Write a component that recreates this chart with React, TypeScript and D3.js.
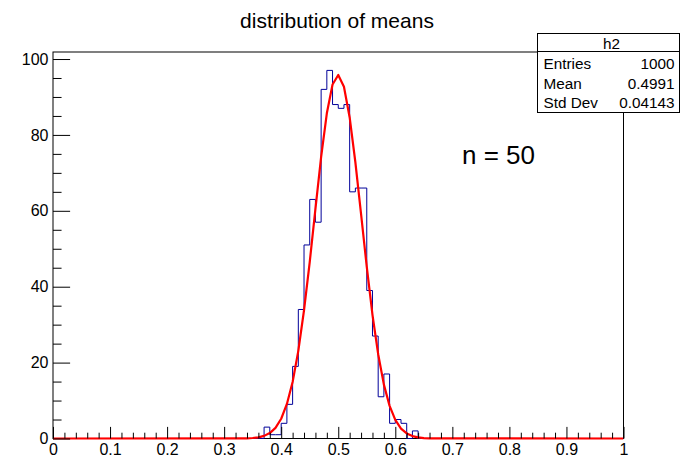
import React, { useEffect, useRef } from 'react';
import * as d3 from 'd3';

// histogram h2: 100 bins on [0, 1], counts
const histLow = 0;
const histHigh = 1;
const binCounts = [
  0, 0, 0, 0, 0, 0, 0, 0, 0, 0,
  0, 0, 0, 0, 0, 0, 0, 0, 0, 0,
  0, 0, 0, 0, 0, 0, 0, 0, 0, 0,
  0, 0, 0, 0, 0, 0, 0, 3, 1, 1,
  4, 9, 19, 34, 51, 63, 57, 92, 97, 88,
  87, 88, 65, 66, 66, 39, 27, 11, 17, 4,
  5, 4, 0, 2, 0, 0, 0, 0, 0, 0,
  0, 0, 0, 0, 0, 0, 0, 0, 0, 0,
  0, 0, 0, 0, 0, 0, 0, 0, 0, 0,
  0, 0, 0, 0, 0, 0, 0, 0, 0, 0
];

// gaussian fit curve, sampled points
const fitX = [0, 0.33, 0.34, 0.35, 0.36, 0.37, 0.38, 0.39, 0.40, 0.41, 0.42, 0.43, 0.44, 0.45, 0.46, 0.47, 0.48, 0.49,
  0.50, 0.51, 0.52, 0.53, 0.54, 0.55, 0.56, 0.57, 0.58, 0.59, 0.60, 0.61, 0.62, 0.63, 0.64, 0.65, 0.66, 0.67, 1];
const fitY = [0, 0.02, 0.05, 0.13, 0.31, 0.69, 1.43, 2.8, 5.2, 9.1, 14.9, 23.1, 33.8, 46.5, 60.5, 74.2, 85.7, 93.3,
  95.8, 92.7, 84.6, 72.8, 59.1, 45.2, 32.6, 22.2, 14.2, 8.6, 4.9, 2.6, 1.33, 0.64, 0.29, 0.12, 0.05, 0.02, 0];

const xMajorTicks = [0, 0.1, 0.2, 0.3, 0.4, 0.5, 0.6, 0.7, 0.8, 0.9, 1];
const yMajorTicks = [0, 20, 40, 60, 80, 100];

const statsLabels = ['Entries', 'Mean', 'Std Dev'];
const statsValues = ['1000', '0.4991', '0.04143'];

const title = 'distribution of means';
const note = 'n = 50';

const FONT = '"Liberation Sans", Arial, Helvetica, sans-serif';

export default function App() {
  const ref = useRef<SVGSVGElement | null>(null);

  useEffect(() => {
    const width = 680, height = 459;
    const frame = { left: 53, right: 623.5, top: 52, bottom: 438.5 };

    const svg = d3.select(ref.current);
    svg.selectAll('*').remove();

    svg.append('rect').attr('width', width).attr('height', height).attr('fill', 'white');

    const yMax = (d3.max(binCounts) as number) * 1.05;
    const x = d3.scaleLinear().domain([histLow, histHigh]).range([frame.left, frame.right]);
    const y = d3.scaleLinear().domain([0, yMax]).range([frame.bottom, frame.top]);

    // title
    svg.append('text')
      .attr('x', 337).attr('y', 28)
      .attr('text-anchor', 'middle')
      .style('font-family', FONT).style('font-size', '21px')
      .text(title);

    // frame
    svg.append('rect')
      .attr('x', frame.left).attr('y', frame.top)
      .attr('width', frame.right - frame.left).attr('height', frame.bottom - frame.top)
      .attr('fill', 'none').attr('stroke', 'black').attr('stroke-width', 1);

    svg.append('clipPath').attr('id', 'frameClip')
      .append('rect')
      .attr('x', frame.left).attr('y', frame.top - 2)
      .attr('width', frame.right - frame.left).attr('height', frame.bottom - frame.top + 4);

    // histogram outline
    const nBins = binCounts.length;
    const bw = (histHigh - histLow) / nBins;
    const pts: [number, number][] = [[histLow, 0]];
    binCounts.forEach((c, i) => {
      pts.push([histLow + i * bw, c]);
      pts.push([histLow + (i + 1) * bw, c]);
    });
    pts.push([histHigh, 0]);

    const line = d3.line<[number, number]>()
      .x(d => x(d[0]))
      .y(d => y(d[1]));

    svg.append('path')
      .datum(pts)
      .attr('d', line)
      .attr('fill', 'none')
      .attr('stroke', '#000099')
      .attr('stroke-width', 1);

    // fit function
    const fitPts = fitX.map((v, i) => [v, fitY[i]] as [number, number]);
    svg.append('path')
      .datum(fitPts)
      .attr('d', line)
      .attr('clip-path', 'url(#frameClip)')
      .attr('fill', 'none')
      .attr('stroke', '#ff0000')
      .attr('stroke-width', 2.2)
      .attr('stroke-linejoin', 'round');

    // x axis: ticks pointing inward
    const majorX = 0.03 * (frame.bottom - frame.top);
    const xAxis = d3.axisBottom(x)
      .tickValues(xMajorTicks)
      .tickSize(-majorX)
      .tickPadding(5.5)
      .tickFormat(d => d3.format('~g')(d as number));
    const gx = svg.append('g')
      .attr('transform', 'translate(0,' + frame.bottom + ')')
      .call(xAxis);
    gx.select('.domain').remove();

    const xMinor = d3.range(0, 101, 2).map(v => v / 100).filter(v => !xMajorTicks.some(t => Math.abs(t - v) < 1e-9));
    const gx2 = svg.append('g')
      .attr('transform', 'translate(0,' + frame.bottom + ')')
      .call(d3.axisBottom(x).tickValues(xMinor).tickSize(-majorX / 2).tickFormat(() => ''));
    gx2.select('.domain').remove();

    // y axis
    const majorY = 0.03 * (frame.right - frame.left);
    const yAxis = d3.axisLeft(y)
      .tickValues(yMajorTicks)
      .tickSize(-majorY)
      .tickPadding(4.5)
      .tickFormat(d => String(d));
    const gy = svg.append('g')
      .attr('transform', 'translate(' + frame.left + ',0)')
      .call(yAxis);
    gy.select('.domain').remove();

    const yMinor = d3.range(0, yMax, 5).filter(v => v % 20 !== 0);
    const gy2 = svg.append('g')
      .attr('transform', 'translate(' + frame.left + ',0)')
      .call(d3.axisLeft(y).tickValues(yMinor).tickSize(-majorY / 2).tickFormat(() => ''));
    gy2.select('.domain').remove();

    svg.selectAll('.tick text')
      .style('font-family', FONT)
      .style('font-size', '16px')
      .attr('fill', 'black');
    svg.selectAll('.tick line').attr('stroke', 'black');

    // label
    svg.append('text')
      .attr('x', 462).attr('y', 163.5)
      .style('font-family', FONT).style('font-size', '26px')
      .text(note);

    // stats box
    const box = { left: 537.5, right: 679.5, top: 33.5, bottom: 112.5, sep: 51.5 };
    const stats = svg.append('g');
    stats.append('rect')
      .attr('x', box.left).attr('y', box.top)
      .attr('width', box.right - box.left).attr('height', box.bottom - box.top)
      .attr('fill', 'white').attr('stroke', 'black').attr('stroke-width', 1);
    stats.append('line')
      .attr('x1', box.left).attr('x2', box.right)
      .attr('y1', box.sep).attr('y2', box.sep)
      .attr('stroke', 'black');
    stats.append('text')
      .attr('x', (box.left + box.right) / 2 + 3).attr('y', 49)
      .attr('text-anchor', 'middle')
      .style('font-family', FONT).style('font-size', '15.3px')
      .text('h2');
    statsLabels.forEach((lab, i) => {
      const yy = 69 + i * 19.7;
      stats.append('text')
        .attr('x', box.left + 6).attr('y', yy)
        .style('font-family', FONT).style('font-size', '15.3px')
        .text(lab);
      stats.append('text')
        .attr('x', box.right - 5).attr('y', yy)
        .attr('text-anchor', 'end')
        .style('font-family', FONT).style('font-size', '15.3px')
        .text(statsValues[i]);
    });
  }, []);

  return (
    <svg
      ref={ref}
      width={680}
      height={459}
      style={{ position: 'absolute', left: 0, top: 0, display: 'block' }}
    />
  );
}
